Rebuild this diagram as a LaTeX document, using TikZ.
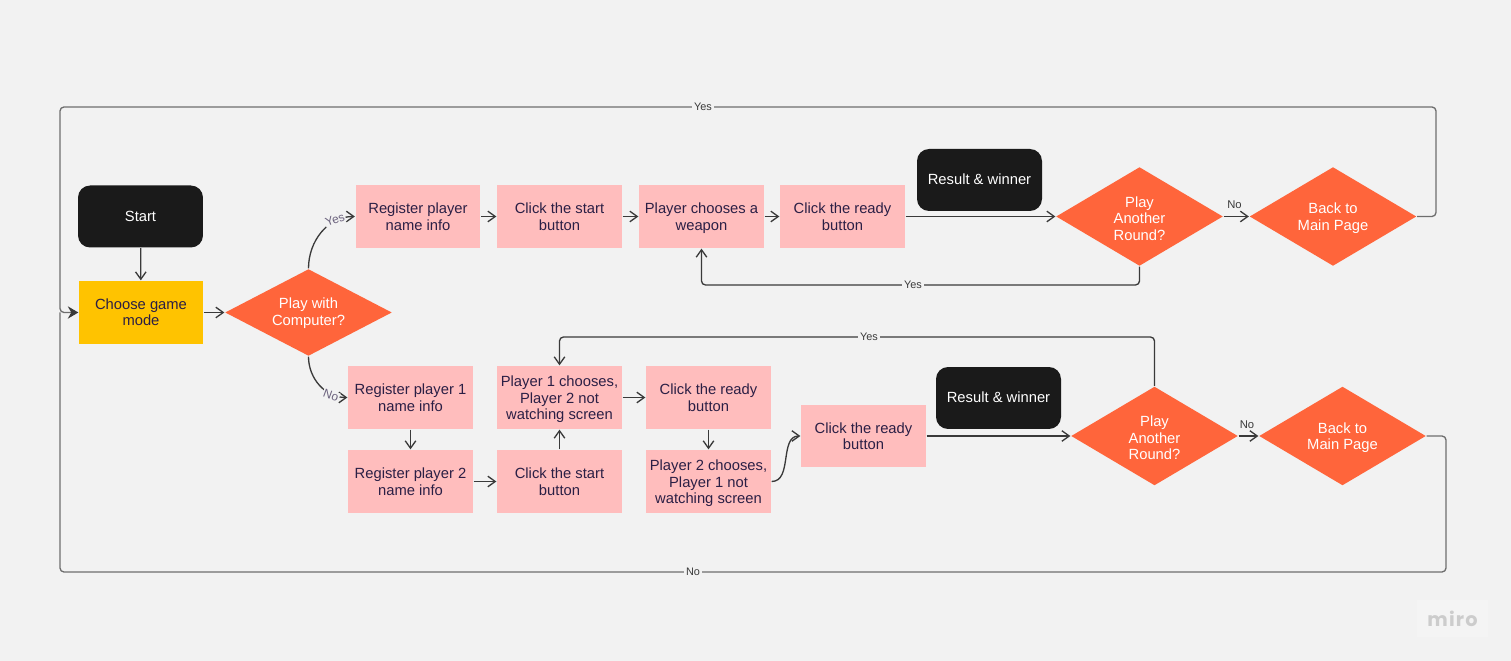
\documentclass[tikz,border=0pt]{standalone}
\usepackage{fontspec}
\setmainfont{Liberation Sans}
\newfontfamily\mirofont{Poppins}
\usetikzlibrary{arrows.meta,shapes.geometric}

\definecolor{bgcol}{HTML}{F2F2F2}
\definecolor{inkcol}{HTML}{3A3A3A}
\definecolor{loopcol}{HTML}{6E6E6E}
\definecolor{pinkcol}{HTML}{FFBDBD}
\definecolor{orangecol}{HTML}{FF653B}
\definecolor{yellowcol}{HTML}{FFC300}
\definecolor{blackcol}{HTML}{1A1A1A}
\definecolor{textcol}{HTML}{2B1F45}

% invisible rule that sets the top of a node's first line
\newcommand{\tl}[1][8.2pt]{\rule{0pt}{#1}}

\begin{document}
\begin{tikzpicture}
[
	            x = 0.02cm,
	            y = -0.02cm,
	           ->, >= {Straight Barb[length=4.2pt,width=6pt]},
	   line width = 0.75pt,
	         draw = inkcol,
	  textbase/.style = { font=\fontsize{8.4}{9.4}\selectfont, align=center, inner sep=0pt,
	                      execute at end node={\rule[-1.7pt]{0pt}{0pt}} },
	   pinkbox/.style = { textbase, fill=pinkcol, text=textcol, minimum width=2.5cm, minimum height=1.26cm },
	  blackbox/.style = { textbase, fill=blackcol, text=white, rounded corners=0.24cm, minimum width=2.5cm, minimum height=1.24cm },
	 yellowbox/.style = { textbase, fill=yellowcol, text=textcol, minimum width=2.48cm, minimum height=1.26cm },
	  question/.style = { textbase, diamond, fill=orangecol, text=white, minimum width=3.34cm, minimum height=1.98cm, aspect=1.69 },
	    corner/.style = { draw=none, fill=none, inner sep=0pt, outer sep=0pt },
	  linetext/.style = { font=\fontsize{6.2}{7}\selectfont, text=inkcol, fill=bgcol, inner sep=1pt },
	  freetext/.style = { font=\fontsize{6.4}{7}\selectfont, text=inkcol, inner sep=0pt },
	  sidetext/.style = { font=\fontsize{6.8}{7}\selectfont, text=textcol!70, fill=bgcol, inner sep=0.5pt },
	  looppath/.style = { draw=loopcol, rounded corners=0.08cm }
]

    \fill[bgcol, draw=none] (0,0) rectangle (1511,661);
    \useasboundingbox (0,0) rectangle (1511,661);

    \node (Start)         at (140.5,216.5) [blackbox]  {\tl[7pt]Start};
    \node (ChooseMode)    at (141,312.5)   [yellowbox] {\tl[7.6pt]Choose game\\mode};
    \node (PlayComputer)  at (308.5,312.5) [question, minimum height=1.74cm, aspect=2] {\tl[7pt]Play with\\Computer?};

    % upper row
    \node (RegPlayer)     at (418,216.5)   [pinkbox]   {\tl Register player\\name info};
    \node (ClickStartA)   at (559.5,216.5) [pinkbox]   {\tl Click the start\\button};
    \node (ChooseWeapon)  at (701.5,216.5) [pinkbox]   {\tl Player chooses a\\weapon};
    \node (ClickReadyA)   at (842.5,216.5) [pinkbox]   {\tl Click the ready\\button};
    \node (ResultA)       at (979.5,180)   [blackbox]  {\tl[7pt]Result \& winner};
    \node (AnotherA)      at (1139.5,216.5) [question] {\tl[10.2pt]Play\\Another\\Round?};
    \node (BackA)         at (1333,216.5)  [question]  {\tl Back to\\Main Page};

    % lower rows
    \node (RegPlayerOne)  at (410.5,397.5) [pinkbox]   {\tl Register player 1\\name info};
    \node (RegPlayerTwo)  at (410.5,481.5) [pinkbox]   {\tl Register player 2\\name info};
    \node (ClickStartB)   at (559.5,481.5) [pinkbox]   {\tl Click the start\\button};
    \node (ChooseOne)     at (559.5,397.5) [pinkbox]   {\tl Player 1 chooses,\\Player 2 not\\watching screen};
    \node (ClickReadyB)   at (708.5,397.5) [pinkbox]   {\tl Click the ready\\button};
    \node (ChooseTwo)     at (708.5,481.5) [pinkbox]   {\tl Player 2 chooses,\\Player 1 not\\watching screen};
    \node (ClickReadyC)   at (863.5,436)   [pinkbox]   {\tl Click the ready\\button};
    \node (ResultB)       at (998.5,398)   [blackbox]  {\tl[7pt]Result \& winner};
    \node (AnotherB)      at (1154.5,436)  [question]  {\tl[10.2pt]Play\\Another\\Round?};
    \node (BackB)         at (1342.5,436)  [question]  {\tl Back to\\Main Page};

    % corners of the long lines
    \node (TopRight)      at (1436,216.5)  [corner] {};
    \node (TopRightUp)    at (1436,107)    [corner] {};
    \node (TopLeft)       at (60,107)      [corner] {};
    \node (LeftMid)       at (60,312.5)    [corner] {};
    \node (BotRight)      at (1446,436)    [corner] {};
    \node (BotRightDown)  at (1446,572)    [corner] {};
    \node (BotLeft)       at (60,572)      [corner] {};
    \node (BackAUnder)    at (1139.5,285)  [corner] {};
    \node (WeaponUnder)   at (701.5,285)   [corner] {};
    \node (BackBOver)     at (1154.5,337)  [corner] {};
    \node (ChooseOver)    at (559.5,337)   [corner] {};

    \draw (Start) -- (ChooseMode);
    \draw (ChooseMode) -- (PlayComputer);
    \draw (PlayComputer.north) to[out=90,in=180] (RegPlayer.west);
    \draw (PlayComputer.south) to[out=-90,in=180] (RegPlayerOne.west);

    \draw (RegPlayer) -- (ClickStartA);
    \draw (ClickStartA) -- (ChooseWeapon);
    \draw (ChooseWeapon) -- (ClickReadyA);
    \draw (ClickReadyA) -- (AnotherA);
    \draw (AnotherA) -- (BackA);
    \draw[rounded corners=0.08cm] (AnotherA.south) -- (BackAUnder.center) -- (WeaponUnder.center) -> (ChooseWeapon.south);

    \draw (RegPlayerOne) -- (RegPlayerTwo);
    \draw (RegPlayerTwo) -- (ClickStartB);
    \draw (ClickStartB) -- (ChooseOne);
    \draw (ChooseOne) -- (ClickReadyB);
    \draw (ClickReadyB) -- (ChooseTwo);
    \draw (ChooseTwo.east) to[out=0,in=180] (ClickReadyC.west);
    \draw (ClickReadyC.east) -- (AnotherB.west);
    \draw (AnotherB) -- (BackB);
    \draw[rounded corners=0.08cm] (AnotherB.north) -- (BackBOver.center) -- (ChooseOver.center) -> (ChooseOne.north);

    \draw[looppath, -] (BackB.east) -- (BotRight.center) -- (BotRightDown.center) -- (BotLeft.center) -- (LeftMid.center);
    \draw[looppath, -{Stealth[length=6pt,width=7pt,color=inkcol]}] (BackA.east) -- (TopRight.center) -- (TopRightUp.center) -- (TopLeft.center) -- (LeftMid.center) -- (ChooseMode.west);

    \node (YesTop)     at (703,107)   [linetext] {Yes};
    \node (YesUnder)   at (913,285)   [linetext] {Yes};
    \node (YesOver)    at (869,337)   [linetext] {Yes};
    \node (NoBottom)   at (693,572)   [linetext] {No};
    \node (NoUpper)    at (1234.5,205) [freetext] {No};
    \node (NoLower)    at (1247,425)  [freetext] {No};
    \node (YesSide)    at (335,219.5) [sidetext, rotate=20]  {Yes};
    \node (NoSide)     at (331,395.5) [sidetext, rotate=-20] {No};

    \node (MiroMark)   at (1452.5,618.5) [draw=none, fill=white, fill opacity=0.2, text opacity=1, minimum width=1.42cm, minimum height=0.74cm, inner sep=0pt, text=black!20, font=\mirofont\bfseries\fontsize{11}{12}\selectfont\addfontfeature{LetterSpace=6}] {miro};

\end{tikzpicture}
\end{document}
